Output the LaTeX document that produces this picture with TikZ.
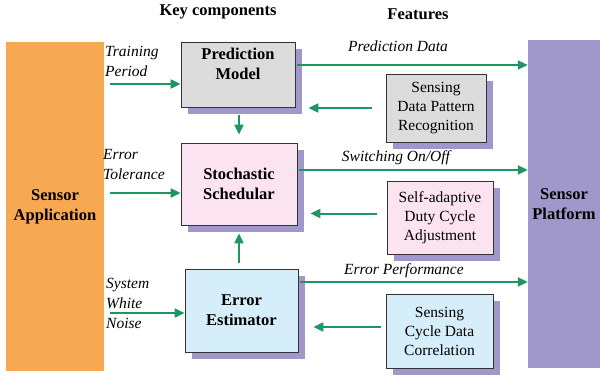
\documentclass[tikz,border=0pt]{standalone}
\usepackage{fontspec}
\setmainfont{Liberation Serif}
\usetikzlibrary{arrows.meta,shadows}
\definecolor{appcol}{HTML}{F6A852}
\definecolor{platcol}{HTML}{A098CB}
\definecolor{predcol}{HTML}{DCDCDC}
\definecolor{stochcol}{HTML}{FBE3F0}
\definecolor{estcol}{HTML}{D5EEFA}
\definecolor{flowcol}{HTML}{1E9664}
\tikzset{
  block/.style={draw=black!80, line width=0.8pt, align=center, inner sep=2pt,
    drop shadow={shadow xshift=7pt, shadow yshift=-7pt, fill=platcol, opacity=1}},
  keybox/.style={block, font=\fontsize{16.5}{20}\selectfont\bfseries},
  featbox/.style={block, fill=predcol, font=\fontsize{15.5}{19}\selectfont},
  flow/.style={draw=flowcol, line width=2pt, -{Triangle[length=10pt,width=9pt]}},
  lbl/.style={font=\fontsize{15.5}{20}\selectfont\itshape, align=left, inner sep=0pt},
  head/.style={font=\fontsize{16.5}{18}\selectfont\bfseries}
}
\begin{document}
\begin{tikzpicture}[x=1pt, y=-1pt]
  \useasboundingbox (0,0) rectangle (601,379);
  \node[head] (keyhead) at (218,12) {Key components};
  \node[head] (feathead) at (418,14) {Features};
  % application and platform
  \node[fill=appcol, minimum width=98pt, minimum height=329pt, align=center,
        font=\fontsize{16.5}{20}\selectfont\bfseries] (app) at (55,206.5) {Sensor\\Application};
  \node[fill=platcol, minimum width=72pt, minimum height=328pt, align=center,
        font=\fontsize{16.5}{20}\selectfont\bfseries] (plat) at (564,204) {Sensor\\Platform};
  % key components
  \node[keybox, fill=predcol, minimum width=114pt, minimum height=65pt,
        label={[align=center, font=\fontsize{16.5}{20}\selectfont\bfseries, yshift=11pt]center:{Prediction\\Model}}] (pred) at (238,74.5) {};
  \node[keybox, fill=stochcol, minimum width=116pt, minimum height=82pt] (stoch) at (239,184) {Stochastic\\Schedular};
  \node[keybox, fill=estcol, minimum width=113pt, minimum height=83pt] (est) at (241.5,310.5) {Error\\Estimator};
  % features
  \node[featbox, fill=predcol, minimum width=100pt, minimum height=68pt] (pattern) at (436,108) {Sensing\\Data Pattern\\Recognition};
  \node[featbox, fill=stochcol, minimum width=106pt, minimum height=73pt] (duty) at (440,217.5) {Self-adaptive\\Duty Cycle\\Adjustment};
  \node[featbox, fill=estcol, minimum width=107pt, minimum height=74pt] (corr) at (439.5,331) {Sensing\\Cycle Data\\Correlation};
  % inputs
  \node[lbl, anchor=west] (trainlbl) at (105,61) {Training\\Period};
  \node[lbl, anchor=west] (tollbl) at (103,165) {Error\\Tolerance};
  \node[lbl, anchor=west] (noiselbl) at (106,303) {System\\White\\Noise};
  \coordinate (train) at (110,84);
  \coordinate (tol) at (110,193);
  \coordinate (noise) at (110,313);
  \draw[flow] (train) -- (train -| pred.west);
  \draw[flow] (tol) -- (tol -| stoch.west);
  \draw[flow] (noise) -- (noise -| est.west);
  % outputs
  \coordinate (preddata) at (297,65);
  \coordinate (switch) at (299,170);
  \coordinate (errperf) at (300,282);
  \draw[flow] (preddata) -- (preddata -| plat.west);
  \draw[flow] (switch) -- (switch -| plat.west);
  \draw[flow] (errperf) -- (errperf -| plat.west);
  \node[lbl] (predlbl) at (398,46) {Prediction Data};
  \node[lbl] (switchlbl) at (396,158) {Switching On/Off};
  \node[lbl] (perflbl) at (404,271) {Error Performance};
  % feedback
  \draw[flow] ([xshift=-14pt]pattern.west) -- ([xshift=13pt]pattern.west -| pred.east);
  \draw[flow] ([xshift=-10pt,yshift=4pt]duty.west) -- ([xshift=13pt,yshift=4pt]duty.west -| stoch.east);
  \draw[flow] ([xshift=-5pt,yshift=4pt]corr.west) -- ([xshift=15pt,yshift=4pt]corr.west -| est.east);
  \draw[flow] ([yshift=-8pt]pred.south -| stoch.north) -- ([yshift=8pt]stoch.north);
  \draw[flow] ([yshift=6pt]est.north -| stoch.south) -- ([yshift=-8pt]stoch.south);
\end{tikzpicture}
\end{document}
